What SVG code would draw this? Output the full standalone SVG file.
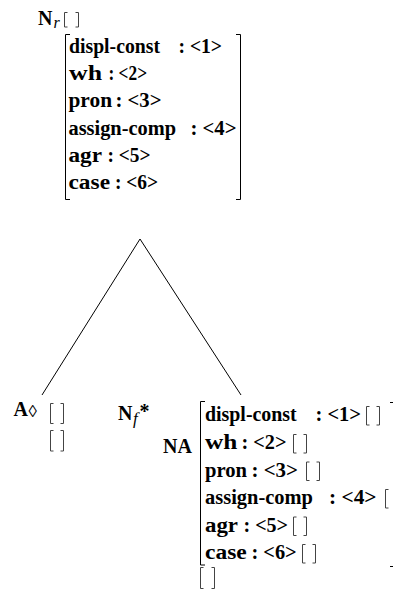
<svg xmlns="http://www.w3.org/2000/svg" width="393" height="593" viewBox="0 0 393 593">
<style>
.t{font-family:"Liberation Serif","Times New Roman",serif;font-weight:bold;font-size:20px;fill:#000}
.it{font-family:"Liberation Serif","Times New Roman",serif;font-style:italic;fill:#000}
.sb{fill:none;stroke:#444;stroke-width:1}
.bb{fill:none;stroke:#000;stroke-width:1}
.edge{fill:none;stroke:#000;stroke-width:1}
</style>
<rect width="393" height="593" fill="#fff"/>
<g id="connectors">
<line class="edge" x1="140" y1="239" x2="42" y2="395"/>
<line class="edge" x1="140" y1="239" x2="241" y2="395"/>
</g>
<g id="root">
<text class="t" x="38" y="25">N</text>
<text class="it" x="53.5" y="28" font-size="16">r</text>
<path class="sb" d="M67.5,12.5 H64.5 V27 H67.5 M75.5,12.5 H78.5 V27 H75.5"/>
<path class="bb" d="M70,34.5 H65.5 V199.5 H70 M236,34.5 H240.5 V199.5 H236"/>
<text class="t" x="69" y="53" textLength="91" lengthAdjust="spacingAndGlyphs">displ-const</text>
<text class="t" x="178.5" y="53" textLength="43.5" lengthAdjust="spacingAndGlyphs">: &lt;1&gt;</text>
<text class="t" x="69" y="80.2" textLength="33" lengthAdjust="spacingAndGlyphs">wh</text>
<text class="t" x="108.5" y="80.2" textLength="38.5" lengthAdjust="spacingAndGlyphs">: &lt;2&gt;</text>
<text class="t" x="68.5" y="107.4" textLength="43.5" lengthAdjust="spacingAndGlyphs">pron</text>
<text class="t" x="115.5" y="107.4" textLength="46" lengthAdjust="spacingAndGlyphs">: &lt;3&gt;</text>
<text class="t" x="68.5" y="134.6" textLength="107.5" lengthAdjust="spacingAndGlyphs">assign-comp</text>
<text class="t" x="190.5" y="134.6" textLength="46" lengthAdjust="spacingAndGlyphs">: &lt;4&gt;</text>
<text class="t" x="68.5" y="161.8" textLength="33.5" lengthAdjust="spacingAndGlyphs">agr</text>
<text class="t" x="107.5" y="161.8" textLength="43" lengthAdjust="spacingAndGlyphs">: &lt;5&gt;</text>
<text class="t" x="68.5" y="189" textLength="41.5" lengthAdjust="spacingAndGlyphs">case</text>
<text class="t" x="115" y="189" textLength="43" lengthAdjust="spacingAndGlyphs">: &lt;6&gt;</text>
</g>
<g id="foot">
<text class="t" x="28" y="416" text-anchor="end">A</text>
<text x="28.5" y="417" font-family="'Liberation Serif','DejaVu Serif',serif" font-size="17" fill="#000">◊</text>
<path class="sb" d="M53.5,403.5 H50.5 V423.5 H53.5 M60.5,403.5 H63.5 V423.5 H60.5"/>
<path class="sb" d="M53.5,430.5 H50.5 V451 H53.5 M60.5,430.5 H63.5 V451 H60.5"/>
</g>
<g id="nf">
<text class="t" x="118" y="420">N</text>
<text class="it" x="133" y="424" font-size="17">f</text>
<text class="t" x="139.5" y="418" font-size="16">*</text>
</g>
<g id="na">
<text class="t" x="163" y="453">NA</text>
<path class="bb" d="M205,401.5 H200.5 V565 H205 M390,402.5 H394.5 V566.5 H390"/>
<text class="t" x="205" y="421" textLength="91.7" lengthAdjust="spacingAndGlyphs">displ-const</text>
<text class="t" x="315.5" y="421" textLength="45.5" lengthAdjust="spacingAndGlyphs">: &lt;1&gt;</text>
<path class="sb" d="M369.5,406.5 H366.5 V425 H369.5 M376.5,406.5 H379.5 V425 H376.5"/>
<text class="t" x="205" y="449" textLength="32.3" lengthAdjust="spacingAndGlyphs">wh</text>
<text class="t" x="241.5" y="449" textLength="45" lengthAdjust="spacingAndGlyphs">: &lt;2&gt;</text>
<path class="sb" d="M296.5,434.5 H293.5 V453 H296.5 M303.5,434.5 H306.5 V453 H303.5"/>
<text class="t" x="205" y="476.5" textLength="42" lengthAdjust="spacingAndGlyphs">pron</text>
<text class="t" x="251.5" y="476.5" textLength="46.5" lengthAdjust="spacingAndGlyphs">: &lt;3&gt;</text>
<path class="sb" d="M309.5,462 H306.5 V480.5 H309.5 M316.5,462 H319.5 V480.5 H316.5"/>
<text class="t" x="205" y="504" textLength="108" lengthAdjust="spacingAndGlyphs">assign-comp</text>
<text class="t" x="329" y="504" textLength="47.5" lengthAdjust="spacingAndGlyphs">: &lt;4&gt;</text>
<path class="sb" d="M388.5,489.5 H385.5 V508 H388.5 M395.5,489.5 H398.5 V508 H395.5"/>
<text class="t" x="205" y="531.5" textLength="33" lengthAdjust="spacingAndGlyphs">agr</text>
<text class="t" x="243.5" y="531.5" textLength="44.5" lengthAdjust="spacingAndGlyphs">: &lt;5&gt;</text>
<path class="sb" d="M296.5,517 H293.5 V535.5 H296.5 M303.5,517 H306.5 V535.5 H303.5"/>
<text class="t" x="205" y="559" textLength="41.7" lengthAdjust="spacingAndGlyphs">case</text>
<text class="t" x="251.5" y="559" textLength="45.2" lengthAdjust="spacingAndGlyphs">: &lt;6&gt;</text>
<path class="sb" d="M305.5,544.5 H302.5 V563 H305.5 M312.5,544.5 H315.5 V563 H312.5"/>
<path class="sb" d="M203.5,567.5 H200.5 V588.5 H203.5 M211.5,567.5 H214.5 V588.5 H211.5"/>
</g>
</svg>
